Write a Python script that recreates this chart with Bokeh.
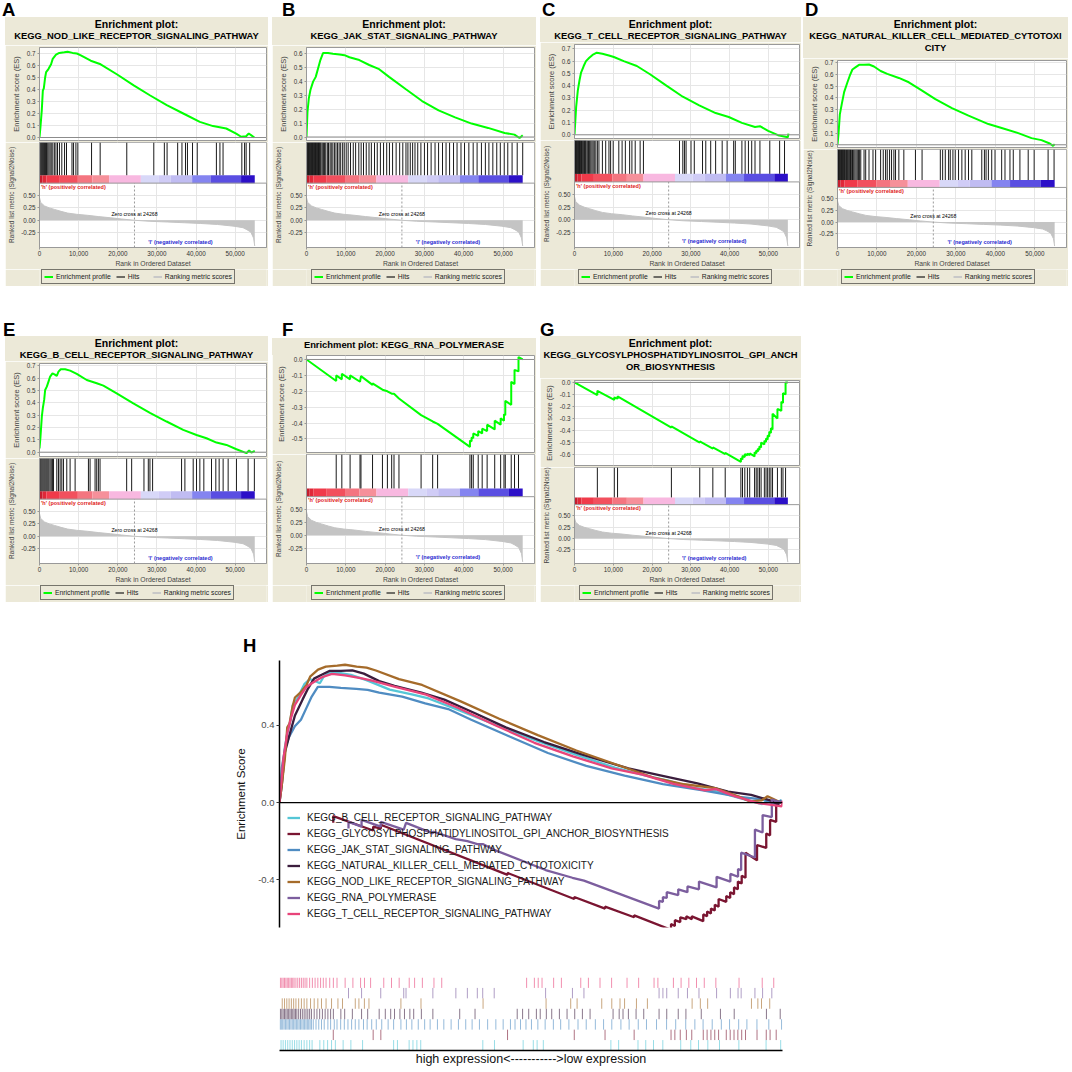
import math
from bokeh.plotting import figure
from bokeh.layouts import column, row
from bokeh.models import (Range1d, FixedTicker, PrintfTickFormatter, NumeralTickFormatter,
                          Span, Legend, LegendItem, Label, Div, Spacer)
from bokeh.embed import file_html
from bokeh.resources import INLINE

# ------------------------------------------------------------------ data
rank_ticks = [0, 10000, 20000, 30000, 40000, 50000]
zero_cross = 24268
metric_ticks = [-0.25, 0.0, 0.25, 0.5]

metric_rank = [0, 300, 1270, 2500, 3800, 5500, 7200, 9500, 12300, 15000, 18200, 21000,
               24268, 28000, 32700, 37000, 41200, 45500, 49700, 52000, 53000, 54000, 54700, 55000]
metric_val = [0.46, 0.36, 0.29, 0.25, 0.22, 0.18, 0.145, 0.12, 0.10, 0.075, 0.05, 0.025,
              0.0, -0.02, -0.035, -0.05, -0.065, -0.085, -0.12, -0.15, -0.19, -0.24, -0.36, -0.52]

cbar_start = [0, 800, 1800, 5000, 9800, 13500, 17800, 25900, 30500, 33500, 39000, 43700, 51500]
cbar_end = [800, 1800, 5000, 9800, 13500, 17800, 25900, 30500, 33500, 39000, 43700, 51500, 55000]
cbar_palette = ["#C41E2E", "#E02838", "#F03A4A", "#F2505E", "#F47580", "#F6909A", "#F8B8E0",
                "#D8D8F8", "#D0CCF6", "#C0BCF2", "#8484F0", "#5A4EE2", "#2C10C8"]

# A  NOD-like receptor
nod_x = [0, 250, 590, 850, 1100, 1440, 1690, 2280, 2960, 3380, 4220, 5070, 6330, 7180, 8450, 9540,
         10560, 13090, 15620, 19850, 24070, 28290, 32520, 36740, 40960, 44340, 47720, 50250, 51520,
         52790, 53460, 54050, 54900]
nod_y = [0.0, 0.09, 0.23, 0.39, 0.41, 0.50, 0.545, 0.57, 0.61, 0.655, 0.69, 0.705, 0.71, 0.715, 0.705,
         0.70, 0.685, 0.64, 0.61, 0.525, 0.435, 0.35, 0.27, 0.20, 0.13, 0.095, 0.075, 0.033, 0.006,
         0.011, 0.033, 0.02, 0.0]
nod_hits = [300, 550, 800, 1050, 1300, 1550, 1800, 2100, 2400, 2700, 3000, 3400, 3800, 4200, 4600,
            5100, 5700, 6400, 6900, 8300, 8700, 9300, 9800, 13300, 15500, 22300, 29200, 31900, 32600,
            35300, 36400, 37300, 37800, 39100, 40300, 45200, 46100, 46900, 51700, 52400, 52800, 53700]

# B  JAK-STAT
jak_x = [0, 250, 590, 1000, 1680, 2350, 2940, 3530, 4200, 5460, 6720, 8400, 9660, 10920, 13440,
         15960, 18480, 21000, 25200, 29400, 33600, 37800, 42000, 46200, 50400, 52900, 54200, 55000]
jak_y = [0.0, 0.18, 0.276, 0.336, 0.396, 0.43, 0.49, 0.55, 0.60, 0.60, 0.595, 0.59, 0.585, 0.57, 0.55,
         0.515, 0.485, 0.43, 0.343, 0.257, 0.19, 0.14, 0.096, 0.065, 0.029, 0.017, -0.007, 0.012]
jak_hits = [80, 200, 350, 500, 650, 800, 950, 1100, 1250, 1400, 1550, 1700, 1850, 2000, 2150, 2300,
            2450, 2600, 2750, 2900, 3050, 3200, 3350, 3500, 3700, 4000, 4300, 4600, 4900, 5300, 5600,
            6000, 6300, 6700, 7100, 7500, 7900, 8300, 8700, 9200, 9600, 10100, 10600, 11200, 11900,
            12500, 13300, 13900, 14500, 15200, 15900, 16500, 17300, 18000, 18800, 19600, 20400, 21100,
            21900, 22800, 23700, 24500, 25300, 25800, 26400, 27000, 27600, 28300, 29100, 30000, 30800,
            31700, 32700, 33600, 34600, 35500, 36400, 37400, 38300, 39300, 40200, 41300, 42400, 43400,
            44500, 45500, 46400, 47400, 48400, 49300, 50300, 51200, 52300, 53600, 55000]

# C  T cell receptor
tcell_x = [0, 170, 420, 850, 1270, 1690, 2370, 2960, 3810, 4650, 5750, 7190, 8880, 10150, 12690,
           16070, 19460, 23690, 27920, 32150, 36380, 39760, 43150, 46530, 47800, 49920, 52460, 53730,
           54990, 55150]
tcell_y = [0.0, 0.09, 0.225, 0.36, 0.44, 0.507, 0.56, 0.60, 0.627, 0.65, 0.668, 0.66, 0.646, 0.633,
           0.60, 0.56, 0.493, 0.40, 0.31, 0.24, 0.177, 0.145, 0.097, 0.064, 0.07, 0.032, -0.003, -0.011,
           -0.02, 0.01]
tcell_hits = [100, 250, 400, 550, 700, 850, 1000, 1150, 1300, 1450, 1600, 1800, 2000, 2200, 2400,
              2600, 2800, 3000, 3300, 3600, 3900, 4200, 4500, 4800, 5100, 5500, 5900, 6300, 7190, 8040,
              8880, 9310, 9980, 11420, 12270, 13110, 14210, 14800, 15650, 16920, 17770, 27070, 27920,
              28340, 28760, 30030, 30880, 33000, 33840, 35110, 36380, 38070, 39340, 41030, 41450,
              43150, 43990, 44840, 45680, 46530, 47800, 50340, 52880, 54140]

# D  Natural killer cell mediated cytotoxicity
nk_x = [0, 250, 590, 1090, 1680, 2520, 3110, 3780, 4620, 5460, 6720, 7980, 9240, 10920, 12600, 15540,
        18060, 21420, 24780, 28980, 33180, 38220, 41580, 45780, 49140, 51660, 53760, 54600, 55000]
nk_y = [0.0, 0.09, 0.26, 0.35, 0.45, 0.534, 0.59, 0.643, 0.663, 0.683, 0.683, 0.686, 0.669, 0.63,
        0.606, 0.571, 0.534, 0.463, 0.39, 0.314, 0.249, 0.177, 0.143, 0.10, 0.057, 0.04, 0.011,
        -0.009, 0.006]
nk_hits = [100, 250, 400, 550, 700, 850, 1000, 1150, 1300, 1450, 1600, 1750, 1900, 2100, 2300, 2500,
           2700, 2900, 3100, 3300, 3500, 3800, 4100, 4400, 4700, 5000, 5300, 5600, 5900, 6720, 7140,
           7980, 8990, 9660, 10920, 11590, 12180, 12600, 13190, 13690, 14280, 14700, 15540, 16800,
           19740, 21420, 26040, 26630, 27300, 28140, 28560, 29230, 29820, 30660, 31500, 32340, 33180,
           34020, 36540, 37210, 37630, 38220, 39060, 39900, 41580, 42420, 43680, 44520, 46200, 48300,
           49810, 53340, 54850]

# E  B cell receptor
bcell_x = [0, 255, 600, 850, 1190, 1445, 1870, 2300, 2720, 3320, 3830, 4420, 4850, 5440, 6545, 7820,
           9520, 12070, 14620, 16320, 19720, 23970, 28220, 32470, 36720, 40120, 42670, 45220, 47770,
           50320, 52870, 53550, 54145, 55000]
bcell_y = [0.03, 0.127, 0.29, 0.357, 0.424, 0.505, 0.532, 0.573, 0.614, 0.64, 0.632, 0.619, 0.654,
           0.673, 0.673, 0.662, 0.635, 0.586, 0.56, 0.54, 0.478, 0.397, 0.32, 0.249, 0.181, 0.14,
           0.113, 0.078, 0.059, 0.024, -0.008, 0.0135, -0.003, 0.011]
bcell_hits = [170, 400, 650, 900, 1150, 1400, 1650, 1900, 2150, 2400, 2700, 3000, 3300, 3570, 4420,
              4850, 5270, 5700, 6120, 6970, 7820, 9100, 12500, 12920, 14200, 14620, 15050, 15470,
              22270, 23550, 26690, 27800, 28220, 28900, 36300, 37150, 39270, 40120, 40970, 41990,
              43950, 45050, 45900, 46920, 48200, 50320, 53300, 54900]

# F  RNA polymerase
rna_x = [0, 7560, 7560, 8990, 8990, 11090, 11090, 13610, 13860, 16800, 16800, 19320, 20580, 21670,
         22260, 23520, 29150, 32090, 33350, 41580, 41580, 42000, 42000, 42420, 42420, 43680, 43680,
         44690, 44690, 45950, 45950, 47880, 47880, 49390, 49390, 50230, 50230, 50570, 50570, 52080,
         52080, 52920, 52920, 53930, 53930, 55000]
rna_y = [0.0, -0.135, -0.10, -0.125, -0.09, -0.125, -0.10, -0.14, -0.105, -0.16, -0.15, -0.19, -0.20,
         -0.215, -0.215, -0.245, -0.35, -0.39, -0.405, -0.55, -0.51, -0.515, -0.49, -0.495, -0.465,
         -0.48, -0.45, -0.465, -0.435, -0.45, -0.41, -0.44, -0.385, -0.41, -0.37, -0.385, -0.345,
         -0.35, -0.26, -0.285, -0.14, -0.155, -0.065, -0.075, 0.015, 0.0]
rna_hits = [7560, 8990, 11090, 13610, 13860, 16800, 19320, 20580, 21670, 22260, 23520, 29150, 32090,
            33350, 41580, 42000, 42420, 43680, 44690, 45950, 47880, 49390, 50230, 50570, 52080,
            52920, 53930]

# G  GPI anchor biosynthesis
gpi_x = [0, 5890, 5890, 10260, 10260, 11100, 11100, 24980, 24980, 32290, 32290, 35660, 35660, 38850,
         38850, 42890, 42890, 43310, 43310, 43900, 43900, 44570, 44570, 45160, 45160, 46420, 46420,
         46840, 46840, 47260, 47260, 47680, 47680, 48100, 48100, 48940, 48940, 49370, 49370, 49790,
         49790, 50210, 50210, 50630, 50630, 51050, 51050, 52310, 52310, 53320, 53320, 53740, 53740,
         54410, 54410, 55000]
gpi_y = [0.0, -0.105, -0.07, -0.145, -0.125, -0.135, -0.115, -0.375, -0.365, -0.50, -0.49, -0.55,
         -0.54, -0.595, -0.585, -0.66, -0.63, -0.64, -0.61, -0.62, -0.595, -0.605, -0.59, -0.605,
         -0.59, -0.615, -0.58, -0.59, -0.565, -0.575, -0.55, -0.56, -0.53, -0.54, -0.50, -0.515,
         -0.485, -0.495, -0.465, -0.475, -0.44, -0.45, -0.41, -0.42, -0.38, -0.39, -0.26, -0.30,
         -0.22, -0.235, -0.16, -0.17, -0.09, -0.10, 0.0, 0.0]
gpi_hits = [5890, 10260, 11100, 24980, 32290, 35660, 38850, 42890, 43310, 43900, 44570, 45160, 46420,
            46840, 47260, 47680, 48100, 48940, 49370, 49790, 50210, 50630, 51050, 52310, 53320,
            53740, 54410]

ticks_a = [0.0, 0.1, 0.2, 0.3, 0.4, 0.5, 0.6, 0.7]
ticks_b = [0.0, 0.1, 0.2, 0.3, 0.4, 0.5, 0.6]
ticks_f = [0.0, -0.1, -0.2, -0.3, -0.4, -0.5]
ticks_g = [0.0, -0.1, -0.2, -0.3, -0.4, -0.5, -0.6]
h_ticks = [-0.4, 0.0, 0.4]

names = ["KEGG_B_CELL_RECEPTOR_SIGNALING_PATHWAY",
         "KEGG_GLYCOSYLPHOSPHATIDYLINOSITOL_GPI_ANCHOR_BIOSYNTHESIS",
         "KEGG_JAK_STAT_SIGNALING_PATHWAY",
         "KEGG_NATURAL_KILLER_CELL_MEDIATED_CYTOTOXICITY",
         "KEGG_NOD_LIKE_RECEPTOR_SIGNALING_PATHWAY",
         "KEGG_RNA_POLYMERASE",
         "KEGG_T_CELL_RECEPTOR_SIGNALING_PATHWAY"]
h_colors = ["#55C6D6", "#7A1531", "#4F8CC2", "#3B1D3D", "#A56B2A", "#7C5E9E", "#E8447A"]

# ------------------------------------------------------------------ style helpers
BEIGE = "#ECE9D8"
FONT = "Liberation Sans"
X_END = 58000
RB = 2  # right border of GSEA frames


def style_axis(ax, fs="6.3px"):
    ax.major_label_text_font = FONT
    ax.major_label_text_font_size = fs
    ax.major_label_text_color = "#333333"
    ax.axis_label_text_font = FONT
    ax.axis_label_text_font_size = "7.5px"
    ax.axis_label_text_font_style = "normal"
    ax.axis_label_text_color = "#444444"
    ax.axis_line_color = "#999999"
    ax.major_tick_line_color = "#999999"
    ax.major_tick_out = 2
    ax.major_tick_in = 0
    ax.minor_tick_line_color = None
    ax.major_label_standoff = 2
    ax.axis_label_standoff = 3


def letter_div(letter, width, height, top, left):
    html = ('<div style="position:relative;top:%dpx;left:%dpx;font-family:\'Liberation Sans\',Arial,'
            'sans-serif;font-weight:bold;font-size:18.5px;line-height:15px;color:#000">%s</div>'
            % (top, left, letter))
    return Div(text=html, width=width, height=height, margin=0)


def title_div(lines, width, height):
    parts = []
    for k, txt in enumerate(lines):
        size = "10.5px" if (k == 0 and len(lines) > 1) else "9.4px"
        parts.append('<div style="font-size:%s;line-height:12.2px">%s</div>' % (size, txt))
    html = ('<div style="width:%dpx;height:%dpx;background:%s;text-align:center;'
            'font-family:\'Liberation Sans\',Arial,sans-serif;font-weight:bold;color:#000;'
            'white-space:nowrap;padding-top:1px;box-sizing:border-box">%s</div>'
            % (width, height, BEIGE, "".join(parts)))
    return Div(text=html, width=width, height=height, margin=0)


def bare_fig(W, H, xr, yr):
    f = figure(width=W, height=H, x_range=xr, y_range=yr, x_axis_location=None,
               y_axis_location=None, toolbar_location=None, output_backend="svg", min_border=0,
               outline_line_color=None, background_fill_color=BEIGE, border_fill_color=BEIGE)
    f.grid.visible = False
    return f


def gsea_panel(letter, title_lines, es_x, es_y, hits, y_lo, y_hi, y_ticks, W, LB, panel_h,
               title_h, letter_h, letter_top, letter_left):
    leg_h = 17
    axis_h = 21
    frames = panel_h - title_h - 2 - axis_h - leg_h
    cm_h = round(frames * 0.533)
    es_frame = frames - cm_h
    xr = Range1d(0, X_END)

    tdiv = title_div(title_lines, W, title_h - 2)

    # ---- enrichment score
    es = figure(width=W, height=es_frame + 4, x_range=xr, y_range=Range1d(y_lo, y_hi),
                output_backend="svg", toolbar_location=None,
                min_border_left=LB, min_border_right=RB, min_border_top=2,
                min_border_bottom=2,
                background_fill_color="white", border_fill_color=BEIGE,
                outline_line_color="#999999")
    es.xaxis.visible = False
    es.xgrid.ticker = FixedTicker(ticks=rank_ticks)
    es.yaxis.ticker = FixedTicker(ticks=y_ticks)
    es.ygrid.ticker = FixedTicker(ticks=y_ticks)
    es.yaxis.formatter = PrintfTickFormatter(format="%.1f")
    es.yaxis.axis_label = "Enrichment score (ES)"
    style_axis(es.yaxis)
    es.grid.grid_line_color = "#E6E6E6"
    es.add_layout(Span(location=0, dimension="width", line_color="#8C8C8C", line_width=1))
    es.line(es_x, es_y, line_color="#00FF00", line_width=2)

    # ---- hits strip + ranked list metric
    m_lo, m_hi = -0.55, 0.75
    top = m_hi + (m_hi - m_lo) * (0.387 / 0.613)
    cb_top = m_hi + (top - m_hi) * 0.195
    c = figure(width=W, height=cm_h + axis_h, x_range=xr, y_range=Range1d(m_lo, top),
               output_backend="svg", toolbar_location=None,
               min_border_left=LB, min_border_right=RB, min_border_top=0, min_border_bottom=0,
               background_fill_color="white", border_fill_color=BEIGE,
               outline_line_color="#999999")
    c.xaxis.ticker = FixedTicker(ticks=rank_ticks)
    c.xgrid.ticker = FixedTicker(ticks=rank_ticks)
    c.xaxis.formatter = NumeralTickFormatter(format="0,0")
    c.xaxis.axis_label = "Rank in Ordered Dataset"
    style_axis(c.xaxis)
    c.xaxis.axis_label_text_font_size = "6.8px"
    c.xaxis.major_label_standoff = 1
    c.xaxis.axis_label_standoff = 1
    c.yaxis.ticker = FixedTicker(ticks=metric_ticks)
    c.ygrid.ticker = FixedTicker(ticks=metric_ticks)
    c.yaxis.formatter = PrintfTickFormatter(format="%.2f")
    c.yaxis.axis_label = "Ranked list metric (Signal2Noise)"
    style_axis(c.yaxis)
    c.yaxis.axis_label_text_font_size = "6.5px"
    c.grid.grid_line_color = "#E6E6E6"

    c.quad(left=[xr.start], right=[xr.end], bottom=[m_hi], top=[top],
           fill_color="white", line_color=None)
    c.quad(left=cbar_start, right=cbar_end, bottom=m_hi, top=cb_top,
           fill_color=cbar_palette, line_color=None)
    c.segment(x0=hits, x1=hits, y0=cb_top, y1=top, line_color="#1A1A1A", line_width=1)
    c.varea(x=metric_rank, y1=0, y2=metric_val, fill_color="#C4C4C4")
    c.line(metric_rank, metric_val, line_color="#C4C4C4", line_width=1)
    c.segment(x0=[zero_cross], x1=[zero_cross], y0=m_lo, y1=m_hi, line_color="#9A9A9A",
              line_width=1, line_dash="2 2")
    c.add_layout(Span(location=m_hi, dimension="width", line_color="#999999", line_width=1))
    c.add_layout(Label(x=400, y=m_hi - 0.015, text="'h' (positively correlated)",
                       text_font=FONT, text_font_size="5.5px", text_font_style="bold",
                       text_color="#E02020", text_baseline="top", text_align="left"))
    c.add_layout(Label(x=zero_cross, y=0.13, text="Zero cross at " + str(zero_cross),
                       text_font=FONT, text_font_size="5.2px", text_color="#000000",
                       text_baseline="middle", text_align="center"))
    c.add_layout(Label(x=36000, y=-0.43, text="'l' (negatively correlated)",
                       text_font=FONT, text_font_size="5.5px", text_font_style="bold",
                       text_color="#2828D0", text_baseline="middle", text_align="center"))

    # ---- legend strip (proxies drawn outside the visible y range)
    lf = bare_fig(W, leg_h, xr, Range1d(10, 11))
    g1 = lf.line(es_x, es_y, line_color="#00FF00", line_width=2)
    g2 = lf.segment(x0=hits, x1=hits, y0=0, y1=1, line_color="#1A1A1A", line_width=1.2)
    g3 = lf.line(metric_rank, metric_val, line_color="#C8C8C8", line_width=2)
    leg = Legend(items=[LegendItem(label="Enrichment profile", renderers=[g1]),
                        LegendItem(label="Hits", renderers=[g2]),
                        LegendItem(label="Ranking metric scores", renderers=[g3])],
                 orientation="horizontal", location=(max(0, int(W / 2 - 96 - LB)), 2))
    leg.label_text_font = FONT
    leg.label_text_font_size = "6.8px"
    leg.label_text_color = "#222222"
    leg.glyph_width = 9
    leg.glyph_height = 9
    leg.label_height = 9
    leg.label_standoff = 3
    leg.spacing = 5
    leg.padding = 2
    leg.margin = 0
    leg.border_line_color = "#000000"
    leg.border_line_width = 1
    leg.background_fill_color = BEIGE
    lf.add_layout(leg)

    return column(letter_div(letter, W, letter_h, letter_top, letter_left), tdiv, es, c, lf)


P1, P2 = 269, 266
L1, L2 = 17, 50
pA = gsea_panel("A", ["Enrichment plot:", "KEGG_NOD_LIKE_RECEPTOR_SIGNALING_PATHWAY"],
                nod_x, nod_y, nod_hits, -0.025, 0.75, ticks_a, 263, 33, P1, 30, L1, 2, -3)
pB = gsea_panel("B", ["Enrichment plot:", "KEGG_JAK_STAT_SIGNALING_PATHWAY"],
                jak_x, jak_y, jak_hits, -0.025, 0.64, ticks_b, 264, 31, P1, 30, L1, 2, 10)
pC = gsea_panel("C", ["Enrichment plot:", "KEGG_T_CELL_RECEPTOR_SIGNALING_PATHWAY"],
                tcell_x, tcell_y, tcell_hits, -0.03, 0.735, ticks_a, 261, 30, P1, 27, L1, 2, 2)
pD = gsea_panel("D", ["Enrichment plot:", "KEGG_NATURAL_KILLER_CELL_MEDIATED_CYTOTOXI", "CITY"],
                nk_x, nk_y, nk_hits, -0.023, 0.72, ticks_a, 265, 32, P1, 43, L1, 2, 2)
pE = gsea_panel("E", ["Enrichment plot:", "KEGG_B_CELL_RECEPTOR_SIGNALING_PATHWAY"],
                bcell_x, bcell_y, bcell_hits, -0.035, 0.72, ticks_a, 263, 34, P2, 27, L2, 36, -2)
pF = gsea_panel("F", ["Enrichment plot: KEGG_RNA_POLYMERASE"],
                rna_x, rna_y, rna_hits, -0.585, 0.025, ticks_f, 264, 31, P2, 19, L2, 36, 10)
pG = gsea_panel("G", ["Enrichment plot:", "KEGG_GLYCOSYLPHOSPHATIDYLINOSITOL_GPI_ANCH",
                      "OR_BIOSYNTHESIS"],
                gpi_x, gpi_y, gpi_hits, -0.69, 0.016, ticks_g, 261, 29, P2, 44, L2, 36, 0)

# ------------------------------------------------------------------ panel H
es_list = [(bcell_x, bcell_y), (gpi_x[1:], gpi_y[1:]), (jak_x, jak_y), (nk_x, nk_y),
           (nod_x, nod_y), (rna_x[1:], rna_y[1:]), (tcell_x, tcell_y)]
hits_list = [bcell_hits, gpi_hits, jak_hits, nk_hits, nod_hits, rna_hits, tcell_hits]

H_LB, H_FW, H_RB = 54, 503, 5
HW = H_LB + H_FW + H_RB
hx = Range1d(0, 55100)
hf = figure(width=HW, height=317, x_range=hx, y_range=Range1d(-0.648, 0.737),
            output_backend="svg", toolbar_location=None,
            min_border_left=H_LB, min_border_right=H_RB, min_border_top=5, min_border_bottom=45,
            outline_line_color=None)
hf.xaxis.visible = False
hf.grid.visible = False
hf.yaxis.ticker = FixedTicker(ticks=h_ticks)
hf.yaxis.formatter = PrintfTickFormatter(format="%.1f")
hf.yaxis.axis_label = "Enrichment Score"
hf.yaxis.axis_label_text_font = FONT
hf.yaxis.axis_label_text_font_size = "11.5px"
hf.yaxis.axis_label_text_font_style = "normal"
hf.yaxis.axis_label_text_color = "#111111"
hf.yaxis.major_label_text_font = FONT
hf.yaxis.major_label_text_font_size = "9.5px"
hf.yaxis.major_label_text_color = "#4D4D4D"
hf.yaxis.axis_line_color = "#000000"
hf.yaxis.axis_line_width = 1.5
hf.yaxis.major_tick_line_color = "#333333"
hf.yaxis.major_tick_out = 3
hf.yaxis.major_tick_in = 0
hf.yaxis.minor_tick_line_color = None
hf.yaxis.major_label_standoff = 2
hf.yaxis.axis_label_standoff = 8
hf.add_layout(Span(location=0, dimension="width", line_color="#000000", line_width=1.2))

items = []
for (xs, ys), col, name in zip(es_list, h_colors, names):
    r = hf.line(xs, ys, line_color=col, line_width=2.3)
    items.append(LegendItem(label=name, renderers=[r]))
hleg = Legend(items=items, location=(6, 4), orientation="vertical")
hleg.label_text_font = FONT
hleg.label_text_font_size = "10px"
hleg.label_text_color = "#1A1A1A"
hleg.glyph_width = 13
hleg.glyph_height = 15
hleg.label_height = 15
hleg.spacing = 1
hleg.label_standoff = 7
hleg.padding = 2
hleg.background_fill_alpha = 0
hleg.border_line_alpha = 0
hf.add_layout(hleg)

rf = figure(width=HW, height=96, x_range=hx, y_range=Range1d(0, len(hits_list)),
            output_backend="svg", toolbar_location=None,
            min_border_left=H_LB, min_border_right=H_RB, min_border_top=5, min_border_bottom=0,
            outline_line_color=None)
rf.yaxis.visible = False
rf.grid.visible = False
rf.xaxis.ticker = FixedTicker(ticks=[])
rf.xaxis.axis_line_color = "#000000"
rf.xaxis.axis_line_width = 1.5
rf.xaxis.major_tick_line_color = None
rf.xaxis.minor_tick_line_color = None
rf.xaxis.axis_label = "high expression<----------->low expression"
rf.xaxis.axis_label_text_font = FONT
rf.xaxis.axis_label_text_font_size = "12.5px"
rf.xaxis.axis_label_text_font_style = "normal"
rf.xaxis.axis_label_text_color = "#111111"
rf.xaxis.axis_label_standoff = 1
for i, (h, col) in enumerate(zip(hits_list, h_colors)):
    rf.segment(x0=h, x1=h, y0=i, y1=i + 1, line_color=col, line_width=1, line_alpha=0.6)

h_block = row(Spacer(width=279 - H_LB, height=10),
              column(letter_div("H", HW, 53, 36, 18), hf, rf))

row1 = row(Spacer(width=5, height=10), pA, Spacer(width=4, height=10), pB,
           Spacer(width=4, height=10), pC, Spacer(width=2, height=10), pD)
row2 = row(Spacer(width=5, height=10), pE, Spacer(width=4, height=10), pF,
           Spacer(width=4, height=10), pG)
layout = column(row1, row2, h_block)

open("out.html", "w").write(file_html(layout, INLINE))
